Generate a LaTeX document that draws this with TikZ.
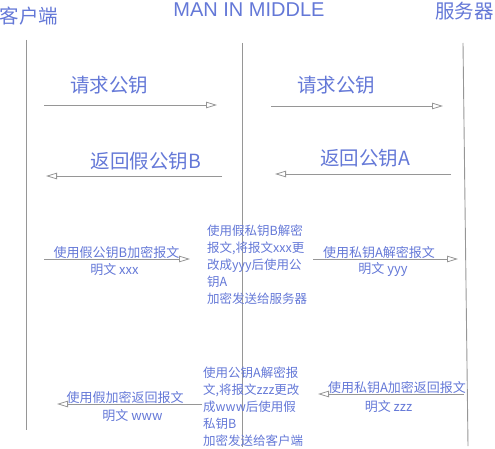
\documentclass[tikz,border=0pt]{standalone}
\usepackage{fontspec}
\setmainfont{Noto Sans CJK SC}
\newfontfamily\latinsans{Liberation Sans}
\usetikzlibrary{arrows.meta}
\definecolor{labelblue}{RGB}{100,120,215}
\definecolor{linegray}{RGB}{150,150,150}
\tikzset{
  lifeline/.style={draw=linegray, line width=0.9pt},
  msg/.style={draw=linegray, line width=0.9pt,
    -{Triangle[open, length=11pt, width=6.5pt, line width=0.8pt]}},
  title/.style={text=labelblue, inner sep=0pt, font=\fontsize{19.5}{22}\selectfont},
  biglabel/.style={text=labelblue, inner sep=0pt, font=\fontsize{19.5}{22}\selectfont},
  smalllabel/.style={text=labelblue, inner sep=0pt, font=\fontsize{13}{15}\selectfont},
  note/.style={text=labelblue, inner sep=0pt, align=left, anchor=west,
    font=\fontsize{12.5}{17}\selectfont},
}
\begin{document}
\begin{tikzpicture}[x=1pt, y=-1pt]
\useasboundingbox (0,0) rectangle (495,449);

% participants
\node[title] (client) at (29,16.5) {客户端};
\node[title, font=\latinsans\fontsize{20}{22}\selectfont] (mitm) at (249,10) {MAN IN MIDDLE};
\node[title] (server) at (464.5,11.5) {服务器};

% lifelines
\coordinate (cTop) at (26,40);   \coordinate (cBot) at (26,430);
\coordinate (mTop) at (242,43);  \coordinate (mBot) at (242,447);
\coordinate (sTop) at (463,43);  \coordinate (sBot) at (468,446);
\draw[lifeline] (cTop) -- (cBot);
\draw[lifeline] (mTop) -- (mBot);
\draw[lifeline] (sTop) -- (sBot);

% 1: client requests key
\coordinate (a1s) at (44,105);  \coordinate (a1e) at (217,105);
\draw[msg] (a1s) -- (a1e);
\node[biglabel] (l1) at (109,85) {请求公钥};

% 2: fake key B back to client
\coordinate (a2s) at (222,176); \coordinate (a2e) at (46,176);
\draw[msg] (a2s) -- (a2e);
\node[biglabel] (l2) at (146,161.5) {返回假公钥B};

% 3: MITM requests key
\coordinate (a3s) at (271,106); \coordinate (a3e) at (443,106);
\draw[msg] (a3s) -- (a3e);
\node[biglabel] (l3) at (336,85) {请求公钥};

% 4: server returns key A
\coordinate (a4s) at (451,174); \coordinate (a4e) at (275,174);
\draw[msg] (a4s) -- (a4e);
\node[biglabel] (l4) at (365,158.5) {返回公钥A};

% 5: client encrypts with fake key B
\coordinate (a5s) at (44,259); \coordinate (a5e) at (190,259);
\draw[msg] (a5s) -- (a5e);
\node[smalllabel] (l5) at (116.5,252.5) {使用假公钥B加密报文};
\node[smalllabel] (p5) at (114.5,270) {明文 xxx};

% MITM rewrites request
\node[note] (n1) at (207,265) {使用假私钥B解密\\报文,将报文xxx更\\改成yyy后使用公\\钥A\\加密发送给服务器};

% 6: forwarded to server
\coordinate (a6s) at (313,259); \coordinate (a6e) at (458,259);
\draw[msg] (a6s) -- (a6e);
\node[smalllabel] (l6) at (379,252.5) {使用私钥A解密报文};
\node[smalllabel] (p6) at (383,270) {明文 yyy};

% 7: server replies
\coordinate (a7s) at (464,394); \coordinate (a7e) at (318,394);
\draw[msg] (a7s) -- (a7e);
\node[smalllabel] (l7) at (397,387.5) {使用私钥A加密返回报文};
\node[smalllabel] (p7) at (388.5,407) {明文 zzz};

% MITM rewrites reply
\node[note] (n2) at (203,407) {使用公钥A解密报\\文,将报文zzz更改\\成www后使用假\\私钥B\\加密发送给客户端};

% 8: forged reply to client
\coordinate (a8s) at (202,404); \coordinate (a8e) at (57,404);
\draw[msg] (a8s) -- (a8e);
\node[smalllabel] (l8) at (125,397.5) {使用假加密返回报文};
\node[smalllabel] (p8) at (132.5,416) {明文 www};
\end{tikzpicture}
\end{document}
